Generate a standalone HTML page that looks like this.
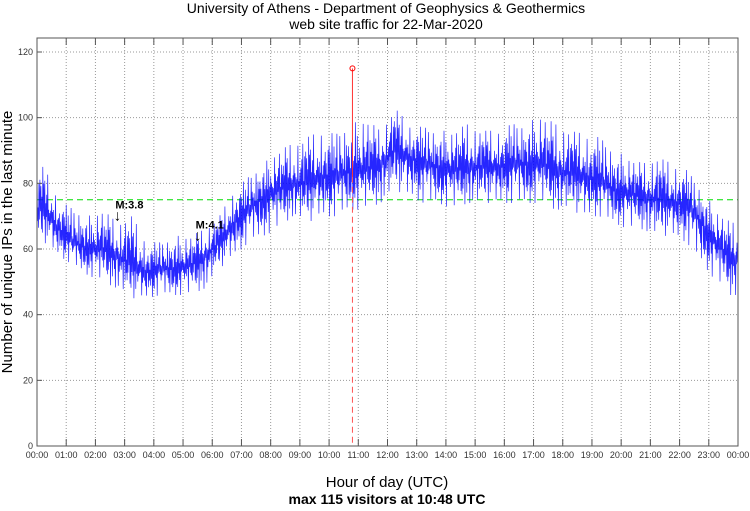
<!DOCTYPE html>
<html><head><meta charset="utf-8"><style>
body{margin:0;background:#fff;}
svg{display:block;font-family:"Liberation Sans",sans-serif;}
</style></head><body>
<svg id="chart" width="750" height="511">
<text x="386" y="13" text-anchor="middle" font-size="14">University of Athens - Department of Geophysics &amp; Geothermics</text>
<text x="386" y="29" text-anchor="middle" font-size="14">web site traffic for 22-Mar-2020</text>
<g id="grid"></g>
<g id="series"></g>
<g id="axes"></g>
<text x="387" y="487" text-anchor="middle" font-size="15">Hour of day (UTC)</text>
<text x="387" y="504" text-anchor="middle" font-size="14" font-weight="bold">max 115 visitors at 10:48 UTC</text>
<text transform="translate(12,242) rotate(-90)" text-anchor="middle" font-size="15">Number of unique IPs in the last minute</text>
</svg>
<script>
// half-hour buckets
const bucketMean=[72,66,62,60,60,58,55,53,54,54,55,58,62,68,72,76,78,80,80,82,82,84,84,86,90,88,86,85,84,85,85,85,86,86,86,84,83,82,81,78,77,76,75,74,74,68,62,57];
const bucketLow=[62,58,55,52,50,48,45,45,46,46,46,48,54,58,62,64,66,70,68,70,70,72,72,74,78,76,74,74,72,74,74,74,74,74,74,72,72,70,70,68,66,66,64,64,62,56,50,46];
const bucketHigh=[85,75,72,70,72,68,70,62,62,64,64,66,70,78,82,86,90,92,94,96,95,98,100,96,103,98,97,96,96,98,96,96,98,98,101,98,96,95,94,90,88,86,88,86,84,78,72,68];
const yTicks=[0,20,40,60,80,100,120];
const xTickLabels=["00:00","01:00","02:00","03:00","04:00","05:00","06:00","07:00","08:00","09:00","10:00","11:00","12:00","13:00","14:00","15:00","16:00","17:00","18:00","19:00","20:00","21:00","22:00","23:00","00:00"];
const maxValue=[115];const maxMinute=[648];
const avgLine=[75];
const quakes=[{label:"M:3.8",minute:165,value:68},{label:"M:4.1",minute:330,value:62}];

const L=37,R=738,T=38,B=446;
const NS="http://www.w3.org/2000/svg";
const xs=m=>L+(R-L)*m/1440;
const ys=v=>B-(v/120)*(394);
function mk(tag,attrs,parent){const e=document.createElementNS(NS,tag);for(const k in attrs)e.setAttribute(k,attrs[k]);parent.appendChild(e);return e;}
const grid=document.getElementById('grid'),axes=document.getElementById('axes'),ser=document.getElementById('series');
yTicks.forEach(v=>{
  if(v>0&&v<=120){const g=mk('line',{x1:L,x2:R,y1:ys(v),y2:ys(v),stroke:'#999','stroke-dasharray':'1,2','stroke-width':1},grid);
  
  }
  const t=mk('text',{x:L-4,y:ys(v)+3,'text-anchor':'end','font-size':9,fill:'#333'},axes);t.textContent=v;
  
  
  mk('line',{x1:L,x2:L+5,y1:ys(v),y2:ys(v),stroke:'#555'},axes);
});
xTickLabels.forEach((lab,i)=>{
  const x=xs(i*60);
  if(i>0&&i<24){const g=mk('line',{x1:x,x2:x,y1:T,y2:B,stroke:'#999','stroke-dasharray':'1,2'},grid);
  
  }
  mk('line',{x1:x,x2:x,y1:B,y2:B-7,stroke:'#555'},axes);
  mk('line',{x1:x,x2:x,y1:T,y2:T+7,stroke:'#555'},axes);
  const t=mk('text',{x:x,y:B+12,'text-anchor':'middle','font-size':9,fill:'#333'},axes);t.textContent=lab;
  
  
});
mk('rect',{x:L,y:T,width:R-L,height:B-T,fill:'none',stroke:'#555'},axes);
const av=mk('line',{x1:L,x2:R,y1:ys(avgLine[0]),y2:ys(avgLine[0]),stroke:'#00dd00','stroke-dasharray':'6,4'},grid);


function env(arr,m){const p=(m-15)/30;let b=Math.floor(p);const f=p-b;const a=arr[Math.max(0,Math.min(47,b))],c=arr[Math.max(0,Math.min(47,b+1))];return a+(c-a)*f;}
const amp=[0.9,0.2,0.55,0.1,0.7,0.35,0.15,0.6,0.25,1,0.05,0.45,0.3];
let pts=[];
for(let m=0;m<1440;m++){
  const mean=env(bucketMean,m),lo=env(bucketLow,m),hi=env(bucketHigh,m);
  const a=amp[(m*5+Math.floor(m/7))%amp.length];
  const v=(m%2===0)?mean+(hi-mean)*a:mean-(mean-lo)*a;
  pts.push(xs(m).toFixed(1)+','+ys(v).toFixed(1));
}
const p1=mk('polyline',{points:pts.join(' '),fill:'none',stroke:'#0000ff','stroke-width':0.7,'stroke-opacity':0.85},ser);


const mx=xs(maxMinute[0]);
const sp=mk('line',{x1:mx,x2:mx,y1:ys(maxValue[0]),y2:ys(82),stroke:'#ff3333'},ser);


const sd=mk('line',{x1:mx,x2:mx,y1:ys(82),y2:B,stroke:'#ff5555','stroke-dasharray':'6,4'},ser);


const c=mk('circle',{cx:mx,cy:ys(maxValue[0]),r:2.5,fill:'none',stroke:'#ff0000'},ser);


quakes.forEach(q=>{
  const x=xs(q.minute),y=ys(q.value);
  const ar=mk('text',{x:x,y:y-2,'text-anchor':'middle','font-size':15},ser);ar.textContent='↓';
  
  
  const t=mk('text',{x:x-2,y:y-14,'font-size':11,'font-weight':'bold'},ser);t.textContent=q.label;
  
  
});
</script>
</body></html>
